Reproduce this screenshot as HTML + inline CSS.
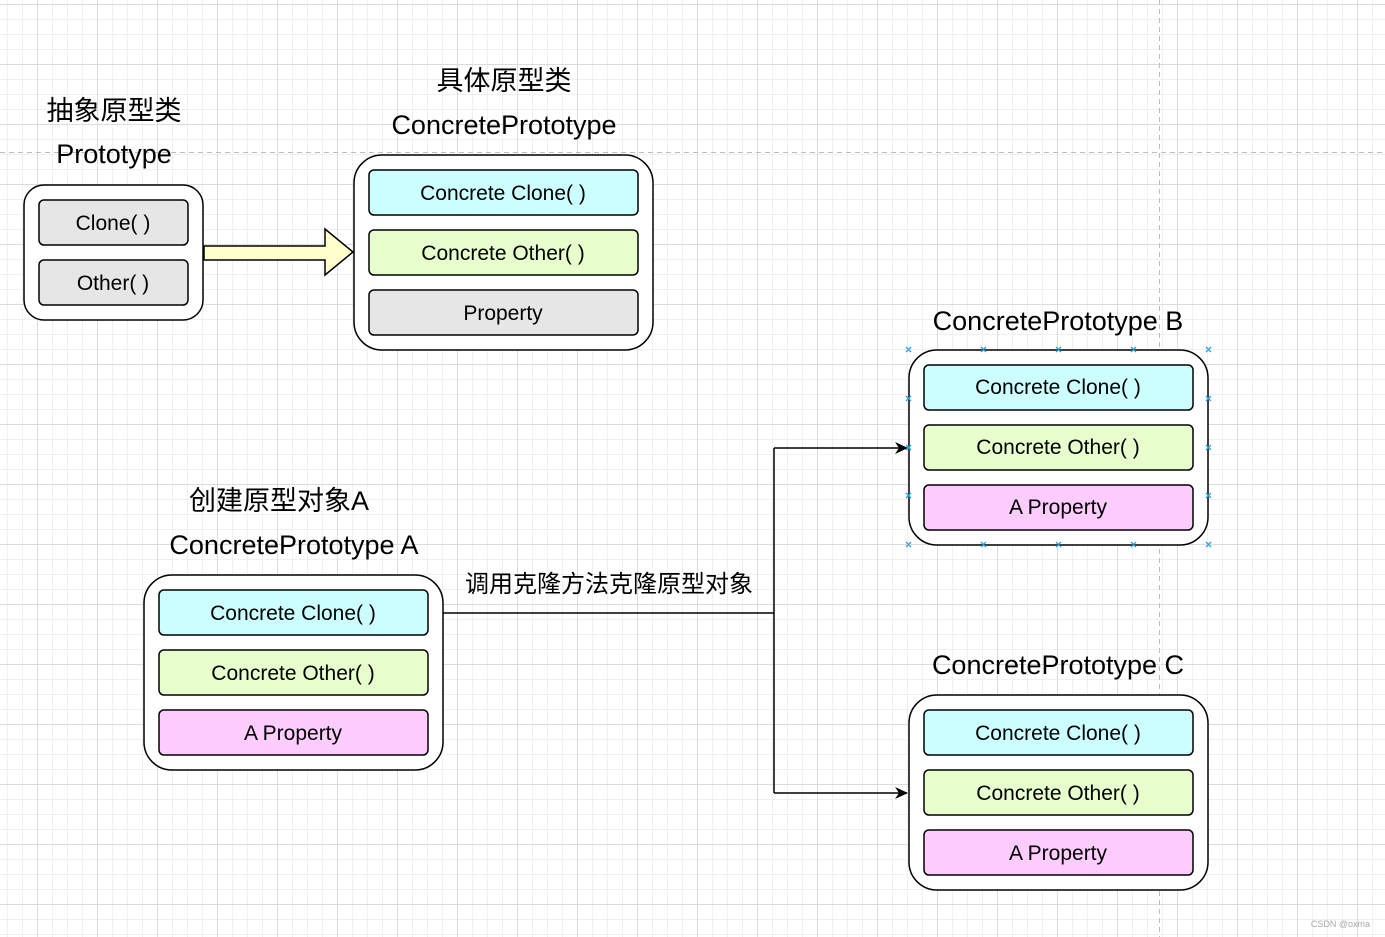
<!DOCTYPE html>
<html><head><meta charset="utf-8"><style>
html,body{margin:0;padding:0;background:#fff;}
svg{display:block;}
text{font-family:"Liberation Sans","Noto Sans CJK SC",sans-serif;fill:#000;}
</style></head><body>
<svg width="1385" height="937" viewBox="0 0 1385 937" xmlns="http://www.w3.org/2000/svg">
<defs>
<pattern id="minor" x="7" y="4" width="15" height="15" patternUnits="userSpaceOnUse">
<path d="M0 0.5H15M0.5 0V15" stroke="#f0f0f0" stroke-width="1" fill="none"/>
</pattern>
<pattern id="major" x="37" y="4" width="60" height="60" patternUnits="userSpaceOnUse">
<path d="M0 0.5H60M0.5 0V60" stroke="#dcdcdc" stroke-width="1" fill="none"/>
</pattern>
<marker id="ah" markerWidth="14" markerHeight="14" refX="12" refY="7" orient="auto" markerUnits="userSpaceOnUse">
<path d="M0 1 L13 7 L0 13 L4 7 Z" fill="#000"/>
</marker>
</defs>
<rect width="1385" height="937" fill="url(#minor)"/>
<rect width="1385" height="937" fill="url(#major)"/>
<line x1="0" y1="152.5" x2="1385" y2="152.5" stroke="#bdbdbd" stroke-dasharray="5,4"/>
<line x1="1159.5" y1="0" x2="1159.5" y2="937" stroke="#bdbdbd" stroke-dasharray="5,4"/>

<g font-size="27" text-anchor="middle">
<text x="114" y="120">抽象原型类</text>
<text x="114" y="163">Prototype</text>
<text x="504" y="90">具体原型类</text>
<text x="504" y="134">ConcretePrototype</text>
<text x="1058" y="330">ConcretePrototype B</text>
<text x="279" y="510">创建原型对象A</text>
<text x="294" y="554">ConcretePrototype A</text>
<text x="1058" y="674">ConcretePrototype C</text>
</g>
<text x="609" y="592" font-size="24" text-anchor="middle">调用克隆方法克隆原型对象</text>

<path d="M204 246 H325 V229 L353 252 L325 275 V260 H204 Z" fill="#ffffcc" stroke="#000" stroke-width="1.5"/>

<path d="M429 613 H774 M774 448 V793" stroke="#000" stroke-width="1.5" fill="none"/>
<path d="M774 448 H907" stroke="#000" stroke-width="1.5" fill="none" marker-end="url(#ah)"/>
<path d="M774 793 H907" stroke="#000" stroke-width="1.5" fill="none" marker-end="url(#ah)"/>

<g stroke="#000" stroke-width="1.5">
<rect x="24" y="185" width="179" height="135" rx="20" fill="#fff"/>
<rect x="39" y="200" width="149" height="45" rx="5" fill="#e6e6e6"/>
<rect x="39" y="260" width="149" height="45" rx="5" fill="#e6e6e6"/>

<rect x="354" y="155" width="299" height="195" rx="28" fill="#fff"/>
<rect x="369" y="170" width="269" height="45" rx="5" fill="#ccffff"/>
<rect x="369" y="230" width="269" height="45" rx="5" fill="#e6ffcc"/>
<rect x="369" y="290" width="269" height="45" rx="5" fill="#e6e6e6"/>

<rect x="909" y="350" width="299" height="195" rx="28" fill="#fff"/>
<rect x="924" y="365" width="269" height="45" rx="5" fill="#ccffff"/>
<rect x="924" y="425" width="269" height="45" rx="5" fill="#e6ffcc"/>
<rect x="924" y="485" width="269" height="45" rx="5" fill="#ffccff"/>

<rect x="144" y="575" width="299" height="195" rx="28" fill="#fff"/>
<rect x="159" y="590" width="269" height="45" rx="5" fill="#ccffff"/>
<rect x="159" y="650" width="269" height="45" rx="5" fill="#e6ffcc"/>
<rect x="159" y="710" width="269" height="45" rx="5" fill="#ffccff"/>

<rect x="909" y="695" width="299" height="195" rx="28" fill="#fff"/>
<rect x="924" y="710" width="269" height="45" rx="5" fill="#ccffff"/>
<rect x="924" y="770" width="269" height="45" rx="5" fill="#e6ffcc"/>
<rect x="924" y="830" width="269" height="45" rx="5" fill="#ffccff"/>
</g>

<g font-size="21" text-anchor="middle">
<text x="113" y="230">Clone( )</text>
<text x="113" y="290">Other( )</text>
<text x="503" y="200">Concrete Clone( )</text>
<text x="503" y="260">Concrete Other( )</text>
<text x="503" y="320">Property</text>
<text x="1058" y="394">Concrete Clone( )</text>
<text x="1058" y="454">Concrete Other( )</text>
<text x="1058" y="514">A Property</text>
<text x="293" y="620">Concrete Clone( )</text>
<text x="293" y="680">Concrete Other( )</text>
<text x="293" y="740">A Property</text>
<text x="1058" y="740">Concrete Clone( )</text>
<text x="1058" y="800">Concrete Other( )</text>
<text x="1058" y="860">A Property</text>
</g>

<g stroke="#29a3e0" stroke-width="1.3">
<path d="M906 347l5 5m0-5l-5 5 M981 347l5 5m0-5l-5 5 M1056 347l5 5m0-5l-5 5 M1131 347l5 5m0-5l-5 5 M1206 347l5 5m0-5l-5 5
M906 542l5 5m0-5l-5 5 M981 542l5 5m0-5l-5 5 M1056 542l5 5m0-5l-5 5 M1131 542l5 5m0-5l-5 5 M1206 542l5 5m0-5l-5 5
M906 396l5 5m0-5l-5 5 M906 445l5 5m0-5l-5 5 M906 493l5 5m0-5l-5 5
M1206 396l5 5m0-5l-5 5 M1206 445l5 5m0-5l-5 5 M1206 493l5 5m0-5l-5 5"/>
</g>
<text x="1370" y="927" font-size="9" text-anchor="end" style="fill:#aaa">CSDN @oxma</text>
</svg>
</body></html>
